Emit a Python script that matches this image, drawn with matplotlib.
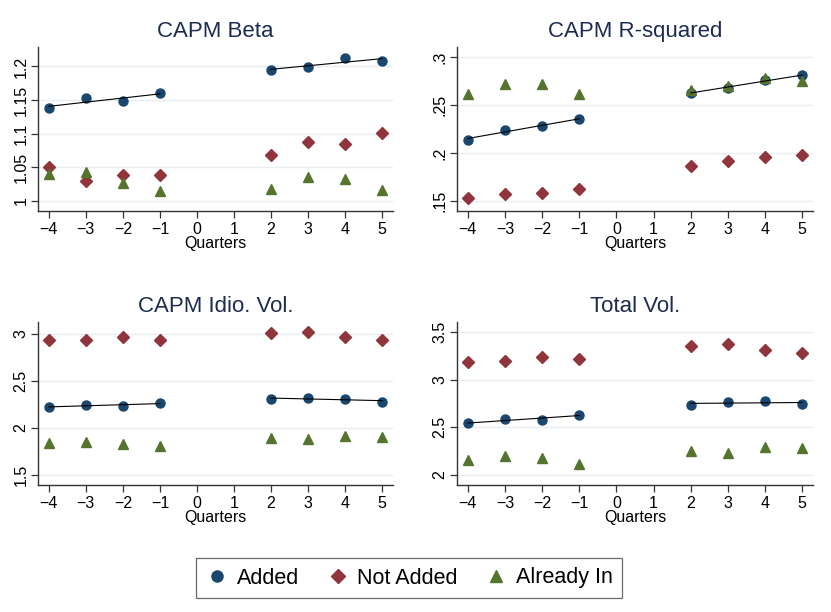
import matplotlib
matplotlib.use("Agg")
import matplotlib.pyplot as plt
import numpy as np
from matplotlib.lines import Line2D

plt.rcParams["font.family"] = ["Liberation Sans", "DejaVu Sans"]

quarters = [-4, -3, -2, -1, 2, 3, 4, 5]

beta_added = [1.138, 1.153, 1.149, 1.160, 1.195, 1.199, 1.213, 1.208]
beta_not_added = [1.050, 1.030, 1.039, 1.038, 1.069, 1.088, 1.084, 1.101]
beta_already_in = [1.040, 1.043, 1.026, 1.015, 1.018, 1.035, 1.033, 1.016]

rsq_added = [0.214, 0.224, 0.228, 0.2355, 0.263, 0.2675, 0.2763, 0.2808]
rsq_not_added = [0.1535, 0.1577, 0.1587, 0.1626, 0.1863, 0.1912, 0.196, 0.1974]
rsq_already_in = [0.2616, 0.2724, 0.2714, 0.2616, 0.2658, 0.270, 0.2777, 0.2749]

idio_added = [2.224, 2.241, 2.231, 2.266, 2.308, 2.315, 2.308, 2.280]
idio_not_added = [2.930, 2.933, 2.961, 2.937, 3.007, 3.018, 2.961, 2.930]
idio_already_in = [1.835, 1.846, 1.825, 1.804, 1.895, 1.878, 1.913, 1.906]

tot_added = [2.541, 2.586, 2.579, 2.631, 2.739, 2.764, 2.774, 2.746]
tot_not_added = [3.186, 3.200, 3.235, 3.221, 3.357, 3.378, 3.315, 3.284]
tot_already_in = [2.157, 2.195, 2.181, 2.119, 2.251, 2.230, 2.290, 2.279]

panels = [
    ("CAPM Beta", beta_added, beta_not_added, beta_already_in,
     [1, 1.05, 1.1, 1.15, 1.2], ["1", "1.05", "1.1", "1.15", "1.2"], (0.985, 1.229)),
    ("CAPM R-squared", rsq_added, rsq_not_added, rsq_already_in,
     [0.15, 0.2, 0.25, 0.3], [".15", ".2", ".25", ".3"], (0.1395, 0.3105)),
    ("CAPM Idio. Vol.", idio_added, idio_not_added, idio_already_in,
     [1.5, 2, 2.5, 3], ["1.5", "2", "2.5", "3"], (1.394, 3.124)),
    ("Total Vol.", tot_added, tot_not_added, tot_already_in,
     [2, 2.5, 3, 3.5], ["2", "2.5", "3", "3.5"], (1.895, 3.605)),
]

NAVY = "#1a476f"
MAROON = "#90353b"
GREEN = "#55752f"
TITLE = "#1c2b50"
GRID = "#e6eef1"
AXIS = "#333333"

W, H = 831, 612
fig = plt.figure(figsize=(W / 100, H / 100), dpi=100)
fig.patch.set_facecolor("white")

# panel boxes in pixels: left, top, right, bottom
boxes = [
    (38, 47, 393, 211),
    (457, 47, 813, 211),
    (38, 322, 393, 485),
    (457, 322, 813, 485),
]

q = np.array(quarters)
pre = q < 0
post = q > 0

for (title, added, not_added, already_in, yt, ytl, ylim), (l, t, r, b) in zip(panels, boxes):
    ax = fig.add_axes([l / W, 1 - b / H, (r - l) / W, (b - t) / H])
    ax.set_xlim(-4.29, 5.29)
    ax.set_ylim(*ylim)
    ax.set_yticks(yt)
    ax.set_yticklabels(ytl, rotation=90, va="center")
    ax.set_xticks(range(-4, 6))
    ax.grid(axis="y", color=GRID, linewidth=1)
    ax.set_axisbelow(True)
    for s in ["top", "right"]:
        ax.spines[s].set_visible(False)
    for s in ["left", "bottom"]:
        ax.spines[s].set_color(AXIS)
        ax.spines[s].set_linewidth(1.0)
    ax.tick_params(axis="both", colors=AXIS, labelcolor="black", labelsize=11.5,
                   length=5, width=0.9, direction="out")
    ax.tick_params(axis="y", pad=2)
    ax.tick_params(axis="x", pad=3)

    ya = np.array(added)
    ax.plot(q, added, "o", color=NAVY, markersize=6.5, zorder=3)
    ax.plot(q, not_added, "D", color=MAROON, markersize=6.3, zorder=3)
    ax.plot(q, already_in, "^", color=GREEN, markersize=7.5, zorder=3)
    # linear fit of the Added series, before and after
    for m in (pre, post):
        k, c = np.polyfit(q[m], ya[m], 1)
        xs = np.array([q[m].min(), q[m].max()])
        ax.plot(xs, k * xs + c, color="black", linewidth=0.8, zorder=4)

    ax.set_title(title, color=TITLE, fontsize=16, pad=7)
    ax.set_xlabel("Quarters", fontsize=11.5, labelpad=-1)

handles = [
    Line2D([], [], marker="o", linestyle="", color=NAVY, markersize=8),
    Line2D([], [], marker="D", linestyle="", color=MAROON, markersize=7.5),
    Line2D([], [], marker="^", linestyle="", color=GREEN, markersize=8.5),
]
leg = fig.legend(handles, ["Added", "Not Added", "Already In"], ncol=3,
                 loc="center", bbox_to_anchor=(409 / W, 1 - 578 / H),
                 fontsize=15.5, frameon=True, fancybox=False, edgecolor="#444444",
                 handletextpad=0.35, columnspacing=1.25, borderpad=0.45, handlelength=1.1)
leg.get_frame().set_linewidth(0.9)

fig.savefig("out.png", dpi=100, facecolor="white")
